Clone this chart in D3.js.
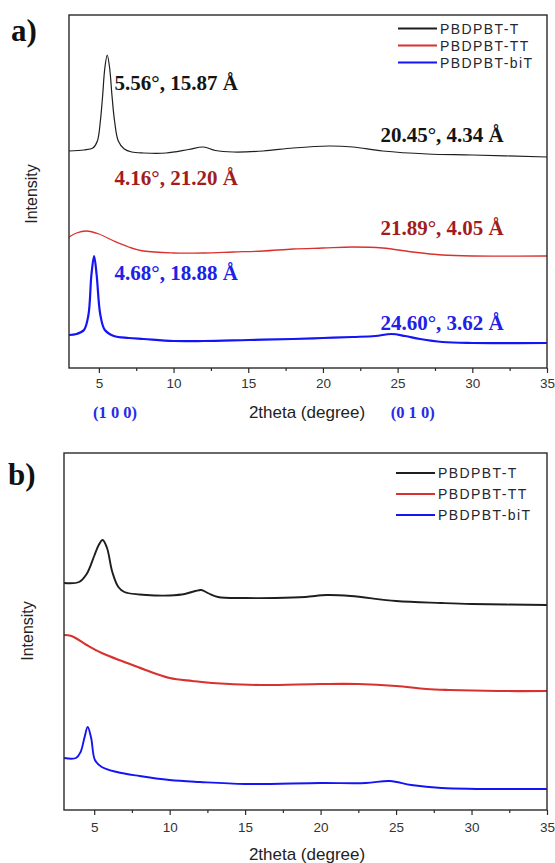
<!DOCTYPE html>
<meta charset="utf-8">
<script src="https://d3js.org/d3.v7.min.js"></script>
<style>
  body { margin: 0; background: #fff; }
</style>
<div id="my_dataviz"></div>
<script>

  // ---- data (2theta in degree, intensity in arbitrary offset units) ----
  var seriesNames = ["PBDPBT-T", "PBDPBT-TT", "PBDPBT-biT"];
  var xTicks = [5, 10, 15, 20, 25, 30, 35];

  // panel a) - smoothed patterns
  var aT = [[3,217],[4,218],[4.6,220],[4.9,227],[5.1,247],[5.25,272],[5.4,300],[5.56,313],[5.72,300],[5.88,272],[6.05,247],[6.3,227],[6.7,219],[7.2,216],[8,215],[9.5,215],[11,218.5],[12,221],[12.8,217.5],[14,216],[16,217],[18,220],[20.4,222],[22,221],[24,217],[27,214],[30,213],[35,211]];
  var aTT = [[3,131],[3.5,135],[4.16,137],[5,134],[6,127],[7,121],[8,117],[10,115],[12,115],[14,116],[16,117],[18,119],[20,120],[22,121],[24,120],[26,116],[28,113],[30,112],[35,112]];
  var aBiT = [[3,33],[3.5,34],[4.0,38],[4.3,53],[4.5,93],[4.68,112],[4.85,93],[5.1,53],[5.4,38],[6,32],[7,30],[8,29],[10,27],[12,27],[15,28],[18,29],[20,30],[22,31],[23.5,32],[24.6,34],[25.5,32],[26.5,29],[28,26],[30,25],[35,25]];

  // panel b) - raw patterns
  var bT = [[3,227],[4,228],[4.5,236],[5,254],[5.3,265],[5.56,270],[5.85,262],[6.2,238],[6.6,223],[7,218],[8,215.5],[9,214.5],[10,214.5],[11,216],[11.7,219],[12.1,220],[12.6,216.5],[13.2,213],[15,212],[17,212],[19,213],[20.4,215],[22,214],[25,209],[28,207],[30,206],[35,205]];
  var bTT = [[3,175],[3.5,174],[4.5,165],[5.5,157],[7,148],[8.4,140],[10,132],[11.5,129],[12.8,127],[16,125],[20,126],[22.5,126],[25,124],[27,121],[28.5,120],[31.8,119],[35,119]];
  var bBiT = [[3,52],[3.8,52],[4.1,58],[4.35,72],[4.57,83],[4.8,72],[5.05,50],[5.5,43],[6.5,38],[8,34],[10,30],[12,28],[15,26],[20,27],[23,27],[24.6,29],[26,25],[28,22],[35,21]];

  // peak annotations of panel a)
  var peakLabels = ["5.56°, 15.87 Å", "20.45°, 4.34 Å", "4.16°, 21.20 Å", "21.89°, 4.05 Å", "4.68°, 18.88 Å", "24.60°, 3.62 Å"];
  var millerLabels = ["(1 0 0)", "(0 1 0)"];

  var lineColors = ["#1e1e1e", "#d8312f", "#1414f5"];
  var labelColors = ["#141414", "#a11d1d", "#2020e8"];

  var svg = d3.select("#my_dataviz")
    .append("svg")
      .attr("width", 555)
      .attr("height", 863);

  function drawPanel(p) {
    var x = d3.scaleLinear().domain([3, 35]).range([p.left, p.right]);
    var y = d3.scaleLinear().domain([0, p.bottom - p.top]).range([p.bottom, p.top]);
    var g = svg.append("g");

    // curves
    var line = d3.line()
      .x(function(d) { return x(d[0]); })
      .y(function(d) { return y(d[1]); })
      .curve(d3.curveCatmullRom.alpha(0.5));
    p.series.forEach(function(s, i) {
      g.append("path")
        .datum(s)
        .attr("fill", "none")
        .attr("stroke", lineColors[i])
        .attr("stroke-width", p.widths[i])
        .attr("stroke-linejoin", "round")
        .attr("d", line);
    });

    // frame
    g.append("rect")
      .attr("x", p.left).attr("y", p.top)
      .attr("width", p.right - p.left).attr("height", p.bottom - p.top)
      .attr("fill", "none").attr("stroke", "#2a2a2a").attr("stroke-width", 1.4);

    // x axis
    var ax = g.append("g")
      .attr("transform", "translate(0," + p.bottom + ")")
      .call(d3.axisBottom(x).tickValues(xTicks).tickSize(5).tickPadding(p.pad));
    ax.select(".domain").remove();
    ax.selectAll("line").attr("stroke", "#2a2a2a").attr("stroke-width", 1.2);
    ax.selectAll("text")
      .attr("fill", "#333")
      .style("font-family", "Arial, 'Liberation Sans', sans-serif")
      .style("font-size", "13.5px");
    var minor = g.append("g")
      .attr("transform", "translate(0," + p.bottom + ")")
      .call(d3.axisBottom(x).tickValues(d3.range(7.5, 35, 5)).tickSize(3).tickFormat(""));
    minor.select(".domain").remove();
    minor.selectAll("line").attr("stroke", "#2a2a2a").attr("stroke-width", 1.2);

    // axis titles
    g.append("text")
      .attr("x", 307)
      .attr("y", p.xTitleY)
      .attr("text-anchor", "middle")
      .style("font-family", "Arial, 'Liberation Sans', sans-serif")
      .style("font-size", "17px")
      .attr("fill", "#222")
      .text("2theta (degree)");
    g.append("text")
      .attr("transform", "translate(" + p.yTitleX + "," + p.yTitleY + ") rotate(-90)")
      .attr("text-anchor", "middle")
      .style("font-family", "Arial, 'Liberation Sans', sans-serif")
      .style("font-size", "16px")
      .attr("fill", "#222")
      .text("Intensity");

    // panel letter
    g.append("text")
      .attr("x", p.letterX).attr("y", p.letterY)
      .style("font-family", "'Liberation Serif', 'Times New Roman', serif")
      .style("font-weight", "bold")
      .style("font-size", "31px")
      .attr("fill", "#111")
      .text(p.letter);

    // legend
    seriesNames.forEach(function(name, i) {
      var ly = p.legendY + i * p.legendStep;
      g.append("line")
        .attr("x1", p.legendX).attr("x2", p.legendX + 39)
        .attr("y1", ly).attr("y2", ly)
        .attr("stroke", lineColors[i]).attr("stroke-width", 2.2);
      g.append("text")
        .attr("x", p.legendX + 42).attr("y", ly)
        .attr("dy", "0.36em")
        .style("font-family", "Arial, 'Liberation Sans', sans-serif")
        .style("font-size", "14px")
        .style("letter-spacing", "1.4px")
        .attr("fill", "#26262e")
        .text(name);
    });
    return {x: x, y: y, g: g};
  }

  var pa = drawPanel({
    left: 69, right: 547, top: 15, bottom: 368, pad: 5,
    series: [aT, aTT, aBiT], widths: [1.2, 1.3, 2.2],
    xTitleY: 418, yTitleX: 37, yTitleY: 194,
    letter: "a)", letterX: 11, letterY: 41,
    legendX: 398, legendY: 28.5, legendStep: 17
  });

  var pb = drawPanel({
    left: 64, right: 547, top: 453, bottom: 810, pad: 7,
    series: [bT, bTT, bBiT], widths: [1.9, 2.1, 1.9],
    xTitleY: 860, yTitleX: 33, yTitleY: 631,
    letter: "b)", letterX: 8, letterY: 485,
    legendX: 396, legendY: 473, legendStep: 21
  });

  // annotations of panel a (position: 2theta of text start, intensity of text centre, colour index)
  var labelPos = [[6.05, 285, 0], [23.85, 233, 0], [6.05, 190, 1], [23.85, 140, 1], [6.05, 95, 2], [23.85, 45, 2]];
  labelPos.forEach(function(d, i) {
    pa.g.append("text")
      .attr("x", pa.x(d[0]))
      .attr("y", pa.y(d[1]))
      .attr("dy", "0.35em")
      .style("font-family", "'Liberation Serif', 'Times New Roman', serif")
      .style("font-weight", "bold")
      .style("font-size", "21px")
      .attr("fill", labelColors[d[2]])
      .text(peakLabels[i]);
  });
  [4.68, 24.6].forEach(function(t, i) {
    pa.g.append("text")
      .attr("x", pa.x(t) + 21)
      .attr("y", 418)
      .attr("text-anchor", "middle")
      .style("font-family", "'Liberation Serif', 'Times New Roman', serif")
      .style("font-weight", "bold")
      .style("font-size", "16.5px")
      .attr("fill", "#2a2ae6")
      .text(millerLabels[i]);
  });

</script>
